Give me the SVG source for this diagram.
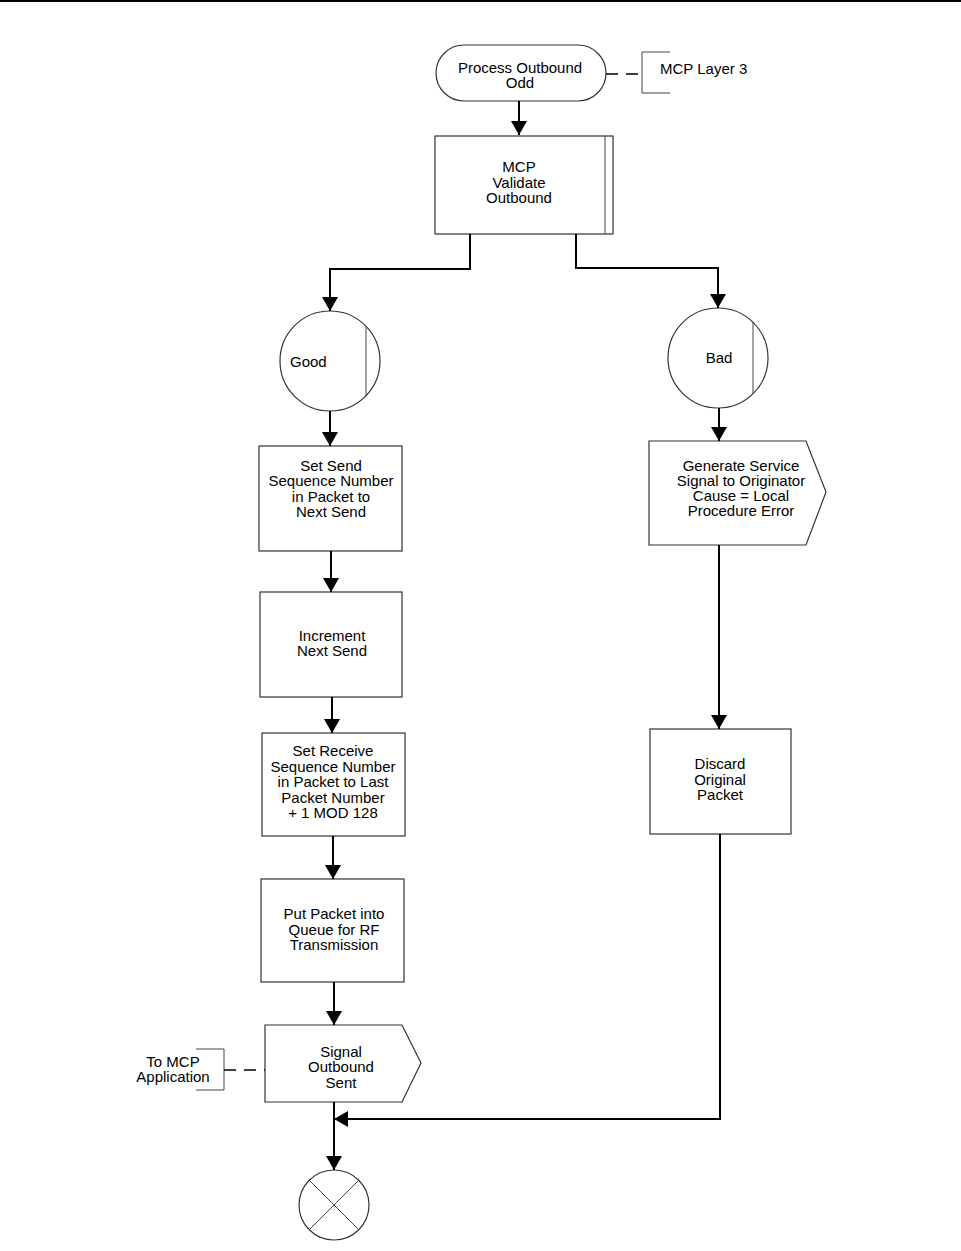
<svg xmlns="http://www.w3.org/2000/svg" width="961" height="1251" viewBox="0 0 961 1251">
<style>
.node{fill:#fff;stroke:#333;stroke-width:1.2}
.thin{fill:none;stroke:#444;stroke-width:1}
.t{font-family:"Liberation Sans",Arial,sans-serif;font-size:15px;fill:#000;text-anchor:middle}
.tl{font-family:"Liberation Sans",Arial,sans-serif;font-size:15px;fill:#000}
.c{fill:none;stroke:#000;stroke-width:2}
.d{fill:none;stroke:#000;stroke-width:1.5;stroke-dasharray:12,8}
</style>
<defs>
<marker id="ah" viewBox="0 0 14 16" refX="14" refY="8" markerWidth="14" markerHeight="16" markerUnits="userSpaceOnUse" orient="auto">
<path d="M0,0 L14,8 L0,16 Z" fill="#000"/>
</marker>
</defs>
<rect x="0" y="0" width="961" height="2" fill="#000"/>

<g id="start">
<rect class="node" x="436" y="45" width="170" height="56" rx="28" ry="28"/>
<text class="t" x="520" y="73">Process Outbound</text>
<text class="t" x="520" y="88">Odd</text>
</g>
<g id="layer3">
<path class="thin" d="M670,52 H642 V93 H670"/>
<text class="tl" x="660" y="74">MCP Layer 3</text>
</g>
<g id="validate">
<rect class="node" x="435" y="136" width="178" height="98"/>
<line class="thin" x1="605" y1="136" x2="605" y2="234"/>
<text class="t" x="519" y="172">MCP</text>
<text class="t" x="519" y="188">Validate</text>
<text class="t" x="519" y="203">Outbound</text>
</g>
<g id="good">
<circle class="node" cx="330" cy="361" r="50"/>
<line class="thin" x1="366" y1="326" x2="366" y2="396"/>
<text class="tl" x="290" y="367">Good</text>
</g>
<g id="bad">
<circle class="node" cx="718" cy="358" r="50"/>
<line class="thin" x1="753" y1="322" x2="753" y2="394"/>
<text class="t" x="719" y="363">Bad</text>
</g>
<g id="setsend">
<rect class="node" x="259" y="446" width="143" height="105"/>
<text class="t" x="331" y="471">Set Send</text>
<text class="t" x="331" y="486">Sequence Number</text>
<text class="t" x="331" y="502">in Packet to</text>
<text class="t" x="331" y="517">Next Send</text>
</g>
<g id="increment">
<rect class="node" x="260" y="592" width="142" height="105"/>
<text class="t" x="332" y="641">Increment</text>
<text class="t" x="332" y="656">Next Send</text>
</g>
<g id="setreceive">
<rect class="node" x="262" y="733" width="143" height="103"/>
<text class="t" x="333" y="756">Set Receive</text>
<text class="t" x="333" y="772">Sequence Number</text>
<text class="t" x="333" y="787">in Packet to Last</text>
<text class="t" x="333" y="803">Packet Number</text>
<text class="t" x="333" y="818">+ 1 MOD 128</text>
</g>
<g id="putpacket">
<rect class="node" x="261" y="879" width="143" height="103"/>
<text class="t" x="334" y="919">Put Packet into</text>
<text class="t" x="334" y="935">Queue for RF</text>
<text class="t" x="334" y="950">Transmission</text>
</g>
<g id="signalsent">
<polygon class="node" points="265,1025 402,1025 421,1063 402,1102 265,1102"/>
<text class="t" x="341" y="1057">Signal</text>
<text class="t" x="341" y="1072">Outbound</text>
<text class="t" x="341" y="1088">Sent</text>
</g>
<g id="tomcp">
<path class="thin" d="M196,1049 H224 V1090 H196"/>
<text class="t" x="173" y="1067">To MCP</text>
<text class="t" x="173" y="1082">Application</text>
</g>
<g id="end">
<circle class="node" cx="334" cy="1205" r="35"/>
<line class="thin" x1="309" y1="1180" x2="359" y2="1230"/>
<line class="thin" x1="359" y1="1180" x2="309" y2="1230"/>
</g>
<g id="generate">
<polygon class="node" points="649,441 806,441 826,492 806,545 649,545"/>
<text class="t" x="741" y="471">Generate Service</text>
<text class="t" x="741" y="486">Signal to Originator</text>
<text class="t" x="741" y="501">Cause = Local</text>
<text class="t" x="741" y="516">Procedure Error</text>
</g>
<g id="discard">
<rect class="node" x="650" y="729" width="141" height="105"/>
<text class="t" x="720" y="769">Discard</text>
<text class="t" x="720" y="785">Original</text>
<text class="t" x="720" y="800">Packet</text>
</g>

<g id="connectors">
<path class="c" d="M519,101 V135" marker-end="url(#ah)"/>
<path class="c" d="M470,234 V269 H330 V311" marker-end="url(#ah)"/>
<path class="c" d="M576,234 V268 H718 V308" marker-end="url(#ah)"/>
<path class="c" d="M330,411 V446" marker-end="url(#ah)"/>
<path class="c" d="M331,551 V592" marker-end="url(#ah)"/>
<path class="c" d="M332,697 V733" marker-end="url(#ah)"/>
<path class="c" d="M333,836 V879" marker-end="url(#ah)"/>
<path class="c" d="M334,982 V1025" marker-end="url(#ah)"/>
<path class="c" d="M334,1102 V1170" marker-end="url(#ah)"/>
<path class="c" d="M719,408 V441" marker-end="url(#ah)"/>
<path class="c" d="M719,545 V729" marker-end="url(#ah)"/>
<path class="c" d="M720,834 V1119 H334" marker-end="url(#ah)"/>
<path class="d" d="M606,74 H642"/>
<path class="d" d="M224,1070 H265"/>
</g>
</svg>
